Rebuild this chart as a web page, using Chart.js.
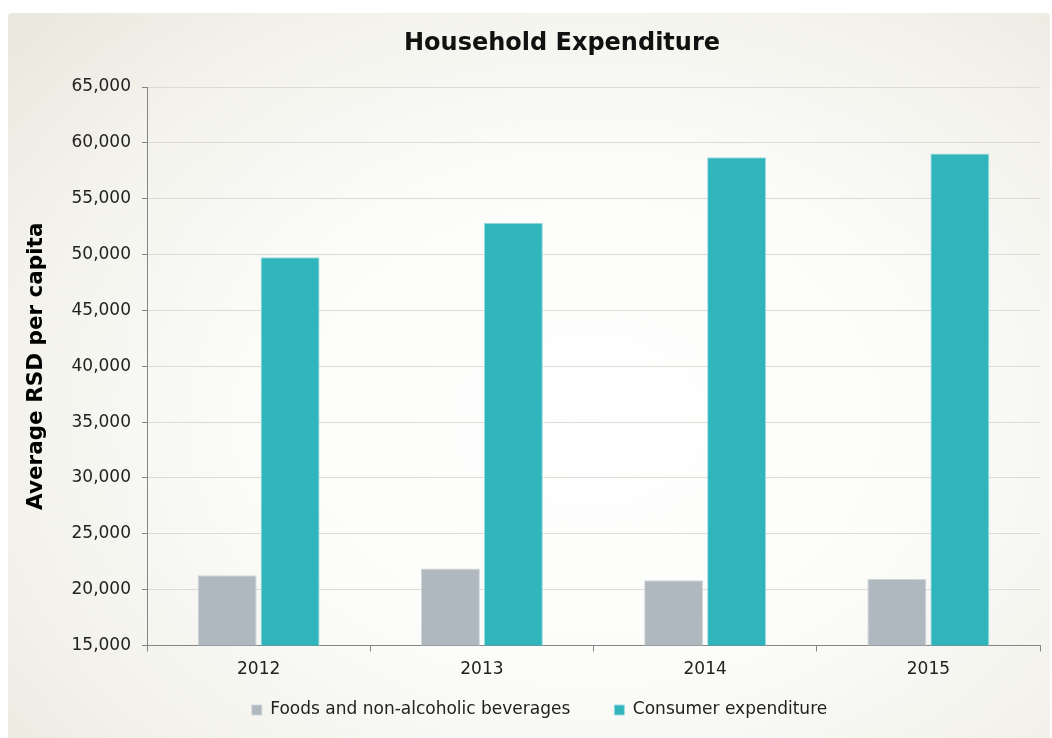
<!DOCTYPE html>
<html>
<head>
<meta charset="utf-8">
<title>Household Expenditure</title>
<script src="https://cdn.jsdelivr.net/npm/chart.js@4.4.1/dist/chart.umd.min.js"></script>
<style>
  html, body { margin: 0; padding: 0; background: #fff; overflow: hidden; }
  #frame {
    position: absolute; left: 8px; top: 13px; width: 1042px; height: 725px;
    border-radius: 4px 4px 0 0;
    background: radial-gradient(ellipse 74% 80% at 56% 56%, #ffffff 0%, #fcfcfa 42%, #f3f2ec 76%, #ebe8de 100%);
  }
  #chart { position: absolute; left: 0; top: 0; }
</style>
</head>
<body>
<div id="frame"></div>
<canvas id="chart" width="1052" height="738"></canvas>
<script>
// ==== Data ====
const years = ['2012', '2013', '2014', '2015'];
const foodsValues = [21300, 21900, 20850, 20950];
const consumerValues = [49750, 52850, 58700, 59050];
const seriesNames = ['Foods and non-alcoholic beverages', 'Consumer expenditure'];
const chartTitle = 'Household Expenditure';
const yAxisTitle = 'Average RSD per capita';
const yMin = 15000;
const yMax = 65000;
const yStep = 5000;

const textFont = { family: '"DejaVu Sans", Verdana, sans-serif', size: 17 };
const axisGray = '#858585';

// title sits a little left of the plot centre, so draw it ourselves
const titlePlugin = {
    id: 'householdTitle',
    afterDraw(chart) {
        const ctx = chart.ctx;
        ctx.save();
        ctx.font = 'bold 24px "DejaVu Sans", Verdana, sans-serif';
        ctx.fillStyle = '#111';
        ctx.textAlign = 'center';
        ctx.textBaseline = 'middle';
        ctx.fillText(chartTitle, 562, 44);
        ctx.restore();
    }
};

// ==== Chart Setup ====
const ctx = document.getElementById('chart').getContext('2d');

const expenditureChart = new Chart(ctx, {
    type: 'bar',
    data: {
        labels: years,
        datasets: [{
            label: seriesNames[0],
            data: foodsValues,
            backgroundColor: '#aeb8be',
            borderColor: '#cfd6da',
            borderWidth: 1
        }, {
            label: seriesNames[1],
            data: consumerValues,
            backgroundColor: '#2fb5bb',
            borderColor: '#9bdde0',
            borderWidth: 1
        }]
    },
    options: {
        responsive: false,
        animation: false,
        categoryPercentage: 0.564,
        barPercentage: 0.937,
        layout: { padding: { left: 39, right: 12, top: 87, bottom: 9.5 } },
        scales: {
            x: {
                ticks: { color: '#222', font: textFont, padding: 8 },
                grid: { offset: true, drawOnChartArea: false, tickColor: axisGray, tickLength: 6 },
                border: { color: axisGray, width: 1 },
                afterFit(scale) {
                    // thin axis box so the legend can sit close; let the year labels spill below it
                    scale.height = 12;
                    scale._computeLabelArea = () => null;
                }
            },
            y: {
                min: yMin,
                max: yMax,
                ticks: {
                    stepSize: yStep,
                    color: '#222',
                    font: textFont,
                    padding: 11,
                    callback: v => v.toLocaleString('en-US')
                },
                grid: { color: '#dcdbd6', tickColor: axisGray, tickLength: 5 },
                border: { color: axisGray, width: 1 },
                title: {
                    display: true,
                    text: yAxisTitle,
                    color: '#000',
                    font: { family: '"DejaVu Sans", Verdana, sans-serif', size: 21.5, weight: 'bold' },
                    padding: { top: -15, bottom: 0 }
                },
                afterFit(scale) { scale.width = 108; }
            }
        },
        plugins: {
            title: { display: false },
            tooltip: { enabled: false },
            legend: {
                position: 'bottom',
                labels: {
                    boxWidth: 10,
                    boxHeight: 10,
                    padding: 44,
                    color: '#222',
                    font: textFont
                }
            }
        }
    },
    plugins: [titlePlugin]
});
</script>
</body>
</html>
